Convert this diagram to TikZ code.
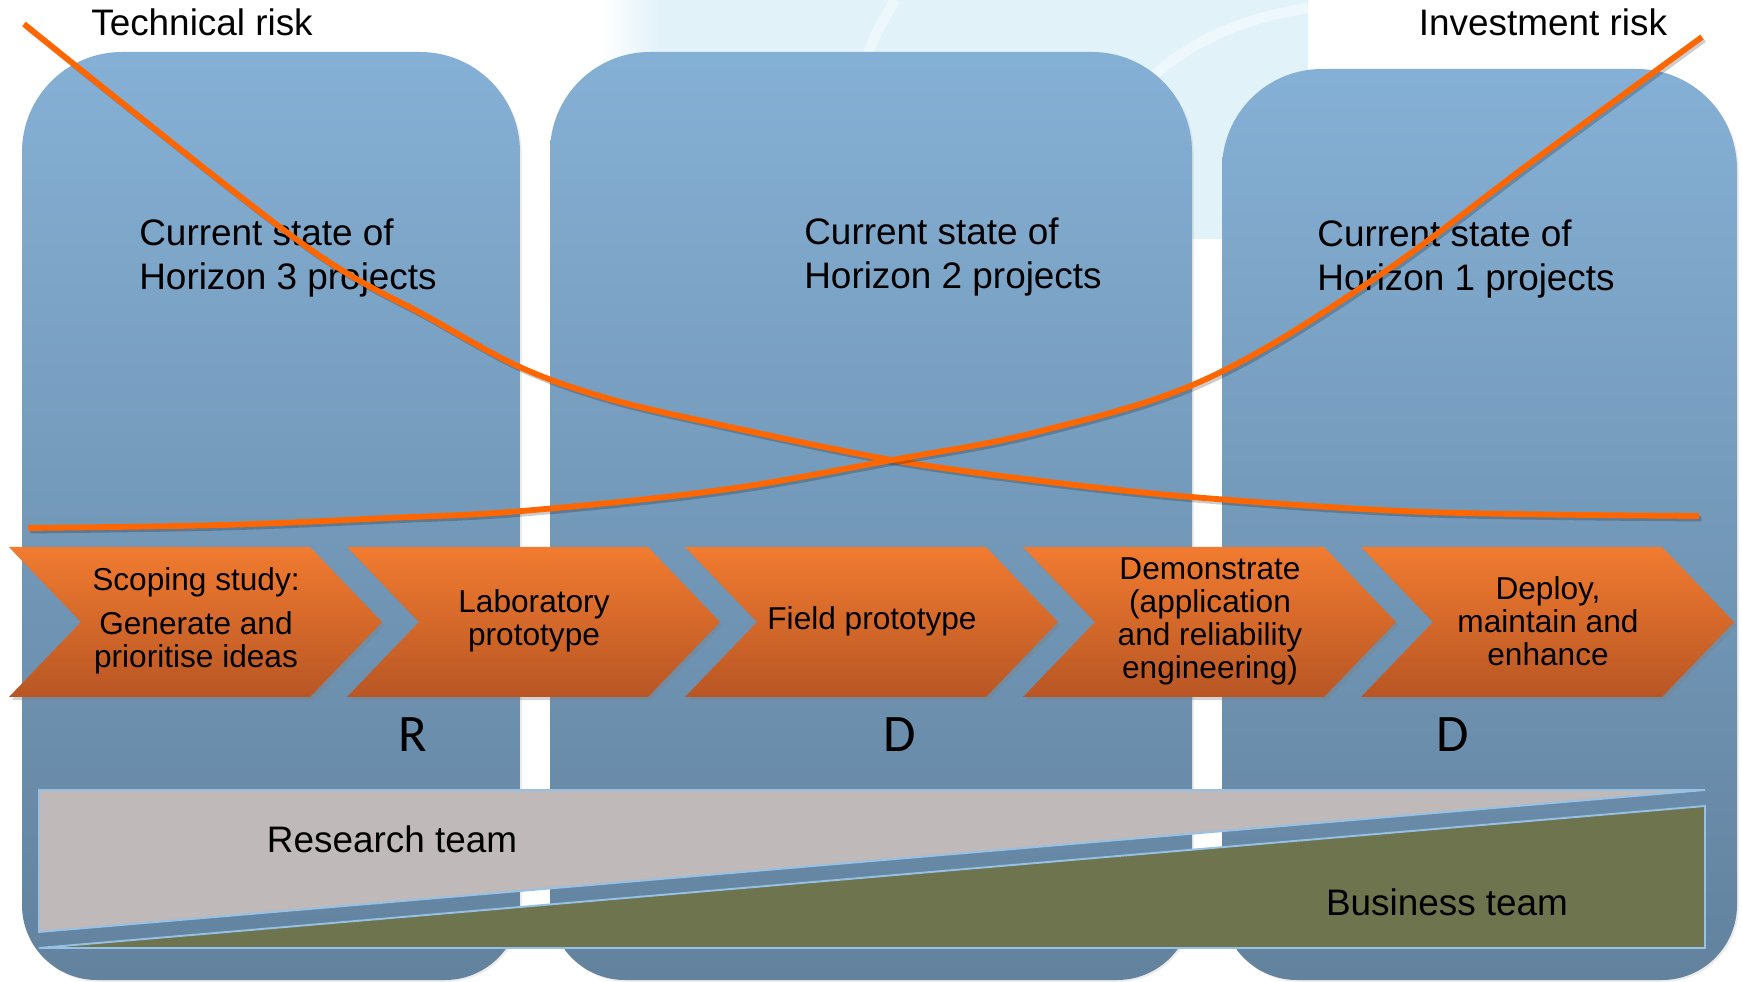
\documentclass[tikz,border=0pt]{standalone}
\usepackage{fontspec}
\setmainfont{Liberation Sans}
\newfontfamily\phasefont{Carlito}
\usetikzlibrary{shadows}
\definecolor{paneltop}{RGB}{133,176,213}
\definecolor{panelbot}{RGB}{98,130,158}
\definecolor{riskorange}{RGB}{255,102,0}
\definecolor{chevtop}{RGB}{241,123,48}
\definecolor{chevbot}{RGB}{184,86,36}
\definecolor{researchgray}{RGB}{191,185,185}
\definecolor{businessgreen}{RGB}{110,116,78}
\definecolor{edgeblue}{RGB}{150,192,228}
\definecolor{bgcyan}{RGB}{225,242,248}
\tikzset{
  panel/.style={top color=paneltop, bottom color=panelbot,
    drop shadow={opacity=.15, shadow xshift=1pt, shadow yshift=-1pt}},
  riskline/.style={draw=riskorange, line width=3.3pt,
    preaction={draw=black, opacity=.2, line width=3pt,
      transform canvas={xshift=1.3pt, yshift=-1.6pt}}},
  chevron/.style={top color=chevtop, bottom color=chevbot,
    drop shadow={opacity=.35, shadow xshift=1.5pt, shadow yshift=-1.8pt}},
  chevtext/.style={align=center, inner sep=0pt, font=\fontsize{18}{18.8}\selectfont},
  heading/.style={align=left, anchor=west, inner sep=0pt, font=\fontsize{21}{25}\selectfont},
  team/.style={inner sep=0pt, font=\fontsize{21}{25}\selectfont},
  phase/.style={inner sep=0pt, font=\phasefont\fontsize{30}{30}\selectfont},
  band/.style={draw=edgeblue, line width=1.1pt},
  swoosh/.style={draw=white, opacity=.45, line width=6pt}
}
\begin{document}
\begin{tikzpicture}[x=0.02cm, y=-0.02cm]
  \useasboundingbox (0,0) rectangle (1742,982);
  % backdrop
  \shade[left color=white, right color=bgcyan] (600,0) rectangle (660,239);
  \fill[bgcyan] (660,0) rectangle (1308,239);
  \draw[swoosh] (862,70) .. controls (875,35) .. (895,0);
  \draw[swoosh] (1120,110) .. controls (1170,50) and (1230,20) .. (1308,8);
  % horizon panels
  \path[panel] (22,500) [rounded corners=2cm] -- (22,52) -- (520,52) -- (520,500)
    [rounded corners=1.5cm] -- (520,980) -- (22,980) -- cycle;
  \path[panel] (550,500) [rounded corners=2cm] -- (550,52) -- (1192,52) -- (1192,500)
    [rounded corners=1.5cm] -- (1192,980) -- (550,980) -- cycle;
  \path[panel] (1222,500) [rounded corners=2cm] -- (1222,69) -- (1737,69) -- (1737,500)
    [rounded corners=1.5cm] -- (1737,980) -- (1222,980) -- cycle;
  \node[heading] (h3) at (139,258) {Current state of\\Horizon 3 projects};
  \node[heading] (h2) at (804,257) {Current state of\\Horizon 2 projects};
  \node[heading] (h1) at (1317,259) {Current state of\\Horizon 1 projects};
  % risk curves
  \draw[riskline] plot[smooth, tension=.55] coordinates {(24,24) (300,242) (430,318)
    (522,368) (610,399) (721,425) (892,460) (1050,482) (1204,498) (1426,512) (1699,516)};
  \draw[riskline] plot[smooth, tension=.6] coordinates {(28,528) (222,525) (388,518) (522,511)
    (721,490) (892,460) (1037,432) (1204,380) (1371,281) (1537,158) (1702,37)};
  \node[team] (tech) at (202,22) {Technical risk};
  \node[team] (invest) at (1543,22) {Investment risk};
  % stages
  \foreach \i/\txt in {0/{Scoping study:\\[6pt]Generate and\\prioritise ideas},
      1/{Laboratory\\prototype}, 2/{Field prototype},
      3/{Demonstrate\\(application\\and reliability\\engineering)},
      4/{Deploy,\\maintain and\\enhance}}{
    \pgfmathsetmacro\xl{9+338*\i}
    \path[chevron] (\xl,547) -- ++(301,0) -- ++(72,75) -- ++(-72,75) -- ++(-301,0)
      -- ++(72,-75) -- cycle;
    \node[chevtext] (stage\i) at (\xl+187,621) {\txt};
  }
  \node[phase] (r) at (413,735) {R};
  \node[phase] (d2) at (900,735) {D};
  \node[phase] (d1) at (1453,735) {D};
  % teams
  \path[band, fill=researchgray] (39,790) -- (1705,790) -- (39,932) -- cycle;
  \path[band, fill=businessgreen] (39,948) -- (1705,948) -- (1705,806) -- cycle;
  \node[team] (research) at (392,839) {Research team};
  \node[team] (business) at (1447,902) {Business team};
\end{tikzpicture}
\end{document}
